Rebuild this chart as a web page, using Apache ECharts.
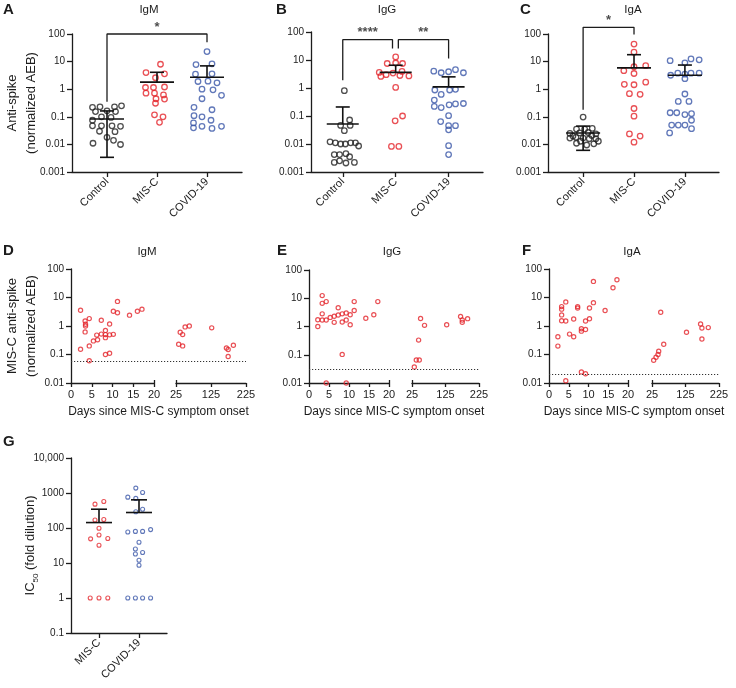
<!DOCTYPE html>
<html><head><meta charset="utf-8">
<script src="https://cdn.jsdelivr.net/npm/echarts@6/dist/echarts.min.js"></script>
<style>html,body{margin:0;padding:0;background:#fff}#c{width:736px;height:688px}</style>
</head><body><div id="c"></div>
<script>
// ================= DATA =================
const groups3 = ['Control', 'MIS-C', 'COVID-19'];
const groups2 = ['MIS-C', 'COVID-19'];
const ticksABC = ['0.001', '0.01', '0.1', '1', '10', '100'];
const ticksDEF = ['0.01', '0.1', '1', '10', '100'];
const ticksG = ['0.1', '1', '10', '100', '1000', '10,000'];
const dayTicks1 = [0, 5, 10, 15, 20];
const dayTicks2 = [25, 125, 225];

// Panel A – IgM (values; horizontal jitter in category units)
const aCtrlVal = [0.22,0.23,0.23,0.25,0.155,0.165,0.155,0.075,0.10,0.095,0.047,0.047,0.047,0.045,0.03,0.029,0.018,0.011,0.0099,0.014];
const aCtrlJit = [-0.29,-0.14,0.15,0.29,-0.23,0,0.17,-0.29,-0.11,0.08,-0.29,-0.11,0.1,0.27,-0.15,0.16,0,-0.28,0.27,0.13];
const aMiscVal = [8.0,4.0,3.6,2.6,1.15,1.15,1.2,0.72,0.72,0.62,0.45,0.44,0.31,0.118,0.10,0.063];
const aMiscJit = [0.07,-0.22,0.15,-0.03,-0.23,-0.07,0.15,-0.22,-0.05,0.13,-0.02,0.15,-0.03,-0.05,0.12,0.05];
const aCovVal = [23,7.8,8.3,3.5,3.6,1.9,1.95,1.7,1.0,0.95,0.6,0.45,0.22,0.18,0.11,0.10,0.075,0.06,0.04,0.045,0.038,0.045];
const aCovJit = [0,-0.22,0.1,-0.23,0.1,-0.18,0.02,0.2,-0.1,0.12,0.29,-0.1,-0.26,0.1,-0.26,-0.1,0.08,-0.27,-0.27,-0.1,0.1,0.29];
const aMean = [0.083, 1.8, 2.7];
const aSdLow = [0.0034, null, null];
const aSdHigh = [0.163, 4.1, 7.0];
const aBracket = [[0, 0.35], [0, 100], [2, 100], [2, 50]];
const aStars = [[1, 100, '*']];

// Panel B – IgG
const bCtrlVal = [0.8,0.072,0.046,0.046,0.03,0.012,0.011,0.01,0.01,0.011,0.011,0.0085,0.0042,0.0042,0.0045,0.0035,0.0022,0.0025,0.0021,0.0022];
const bCtrlJit = [0.03,0.13,-0.04,0.14,0.03,-0.24,-0.14,-0.04,0.05,0.15,0.24,0.3,-0.16,-0.06,0.06,0.13,-0.16,-0.06,0.06,0.22];
const bMiscVal = [12.9,7.5,7.8,7.5,3.6,3.0,3.4,2.8,2.7,2.6,3.9,1.05,0.10,0.067,0.0082,0.0082];
const bMiscJit = [0,-0.16,0,0.13,-0.31,-0.18,-0.05,0.08,0.25,-0.28,0.12,0,0.13,-0.01,-0.08,0.06];
const bCovVal = [4.0,3.5,3.8,4.5,3.5,0.85,0.85,0.9,0.59,0.37,0.22,0.2,0.25,0.27,0.28,0.103,0.063,0.045,0.045,0.032,0.0087,0.0042];
const bCovJit = [-0.28,-0.14,0,0.13,0.28,-0.26,0.02,0.13,-0.14,-0.27,-0.27,-0.14,0.01,0.13,0.28,0,-0.15,0,0.13,0,0,0];
const bMean = [0.052, 3.6, 1.1];
const bSdLow = [null, null, null];
const bSdHigh = [0.21, 6.5, 2.5];
const bBracket1 = [[0, 1.9], [0, 53], [0.94, 53], [0.94, 25.6]];
const bBracket2 = [[1.05, 25.6], [1.05, 53], [2, 53], [2, 11.3]];
const bStars = [[0.47, 53, '****'], [1.52, 53, '**']];

// Panel C – IgA
const cCtrlVal = [0.098,0.036,0.036,0.038,0.025,0.026,0.027,0.024,0.017,0.018,0.017,0.016,0.016,0.011,0.0095,0.0105,0.02,0.021,0.013,0.013];
const cCtrlJit = [0,-0.13,0.03,0.18,-0.26,-0.07,0.1,0.25,-0.26,-0.14,0,0.12,0.25,-0.13,0.07,0.21,-0.2,0.17,-0.05,0.3];
const cMiscVal = [43,22,6.5,7.1,4.7,3.7,1.5,1.45,1.8,0.69,0.65,0.2,0.105,0.024,0.02,0.012];
const cMiscJit = [0,0,0,0.23,-0.2,0,-0.19,0,0.23,-0.09,0.12,0,0,-0.09,0.12,0];
const cCovVal = [10.8,12.5,11.6,9,3.2,3.8,3.5,3.8,3.8,2.4,0.67,0.36,0.36,0.14,0.14,0.12,0.13,0.075,0.05,0.05,0.05,0.037,0.026];
const cCovJit = [-0.29,0.12,0.28,0,-0.28,-0.14,0,0.12,0.28,0,0,-0.13,0.08,-0.29,-0.16,0,0.13,0.13,-0.26,-0.13,0,0.13,-0.3];
const cMean = [0.026, 5.9, 3.2];
const cSdLow = [0.0061, null, null];
const cSdHigh = [0.046, 17.8, 7.5];
const cBracket = [[0, 0.18], [0, 175], [1, 175], [1, 95]];
const cStars = [[0.5, 175, '*']];

// Panel D – MIS-C IgM over time
const dDays = [2.3,2.3,3.4,3.5,3.5,3.4,4.4,4.4,4.4,5.4,6.2,6.4,7.3,7.3,8.3,8.3,8.3,8.3,9.3,9.3,9.3,10.2,10.2,11.2,11.2,14.1,16,17.1,
  32.6,37,44,44,51,63,127,169,174,174,189];
const dVals = [3.56,0.152,1.5,1.0,1.15,0.62,1.82,0.2,0.06,0.30,0.48,0.33,1.6,0.52,0.7,0.5,0.39,0.10,1.17,0.49,0.11,0.51,3.3,7.3,2.9,2.4,3.3,3.9,
  0.23,0.6,0.5,0.2,0.93,1.0,0.86,0.17,0.15,0.085,0.21];
const dLimit = 0.06;

// Panel E – MIS-C IgG over time
const eDays = [2.2,2.2,3.3,3.3,3.3,3.3,4.3,4.3,4.3,5.3,6.3,6.3,7.3,7.3,8.3,8.3,8.3,9.3,9.3,9.3,10.3,10.3,11.3,11.3,14.2,16.2,17.2,
  31.9,37.8,46.7,44.7,50.6,62.4,128.5,170,175,175,191];
const eVals = [1.73,1.0,12.4,6.6,2.8,1.7,7.6,1.7,0.01,2.1,2.3,1.4,4.6,2.55,2.8,1.45,0.103,3.0,1.7,0.01,2.6,1.15,7.6,3.7,1.95,2.6,7.6,
  0.037,0.065,0.065,0.33,1.93,1.1,1.15,2.27,1.7,1.4,1.9];
const eLimit = 0.0325;

// Panel F – MIS-C IgA over time
const fDays = [2.25,2.25,3.2,3.2,3.2,3.2,4.25,4.25,4.25,5.2,6.25,6.25,7.25,7.25,8.2,8.2,8.2,9.25,9.25,9.25,10.25,10.25,11.25,11.25,14.2,16.2,17.2,
  30,37,43,45,51,60,128,170,174,174,193];
const fVals = [0.42,0.197,4.8,3.9,2.45,1.53,7.0,1.5,0.012,0.52,1.77,0.42,4.8,4.3,0.8,0.66,0.0245,1.5,0.75,0.021,4.3,1.8,6.6,36.7,3.5,22,42,
  0.063,0.08,0.1,0.13,3.03,0.23,0.6,1.17,0.85,0.35,0.88];
const fLimit = 0.0163;

// Panel G – IC50
const gMiscVal = [480,570,170,175,98,63,49,50,32,1,1,1];
const gMiscJit = [-0.1,0.12,-0.1,0.12,0,0,-0.21,0.22,0,-0.22,0,0.22];
const gCovVal = [1380,1035,760,700,345,290,77,80,80,90,39,25,18,20,12,8.6,1,1,1,1];
const gCovJit = [-0.08,0.09,-0.28,-0.08,0.09,-0.08,-0.28,-0.09,0.09,0.29,0,-0.09,-0.09,0.09,0,0,-0.28,-0.09,0.09,0.29];
const gMean = [143, 277];
const gSdLow = [null, null];
const gSdHigh = [344, 638];

// ================= STYLE / LAYOUT =================
const FONT = '"Liberation Sans", Arial, Helvetica, sans-serif';
const INK = '#1c1c1c';
const RED = '#e3242b', BLUE = '#3a56a8', BLACK = '#222222';
const AX = { color: INK, width: 1.3 };

const grids = [], xAxes = [], yAxes = [], series = [];
function addGrid(g) { grids.push(Object.assign({ containLabel: false, outerBoundsMode: 'none' }, g)); return grids.length - 1; }
function num(s) { return parseFloat(s.replace(/,/g, '')); }
function logFormatter(labels) {
  const nums = labels.map(num);
  return v => { for (let i = 0; i < nums.length; i++) if (Math.abs(Math.log10(v) - Math.log10(nums[i])) < 1e-6) return labels[i]; return ''; };
}
function logY(gi, labels, opt) {
  opt = opt || {};
  const nums = labels.map(num);
  const ax = {
    type: 'log', logBase: 10, gridIndex: gi, min: nums[0], max: nums[nums.length - 1], splitNumber: labels.length - 1,
    show: opt.show !== false,
    axisLine: { show: true, onZero: false, lineStyle: AX },
    axisTick: { show: true, length: 5, lineStyle: AX },
    axisLabel: { formatter: logFormatter(labels), color: INK, fontSize: 10, fontFamily: FONT, margin: 7 },
    splitLine: { show: false }, minorTick: { show: false }, minorSplitLine: { show: false }
  };
  if (opt.name) {
    ax.name = opt.name; ax.nameLocation = 'middle'; ax.nameGap = opt.nameGap; ax.nameMoveOverlap = false;
    ax.nameTextStyle = Object.assign({ fontSize: 13, color: INK, fontFamily: FONT, lineHeight: 19 }, opt.nameStyle || {});
  }
  yAxes.push(ax); return yAxes.length - 1;
}
function catX(gi, cats, min, max) {
  const idx = cats.map((_, i) => i);
  xAxes.push({
    type: 'value', gridIndex: gi, min, max, position: 'bottom',
    axisLine: { show: true, onZero: false, lineStyle: AX },
    axisTick: { show: true, length: 5, customValues: idx, lineStyle: AX },
    axisLabel: { customValues: idx, formatter: v => cats[Math.round(v)] || '', rotate: 45, color: INK, fontSize: 11, fontFamily: FONT, margin: 8 },
    splitLine: { show: false }
  });
  return xAxes.length - 1;
}
function dots(xi, yi, xs, ys, color, size, bw) {
  series.push({
    type: 'scatter', xAxisIndex: xi, yAxisIndex: yi, data: xs.map((x, i) => [x, ys[i]]),
    symbol: 'circle', symbolSize: size, silent: true, clip: false, z: 2,
    itemStyle: { color: 'rgba(255,255,255,0)', borderColor: color, borderWidth: bw }
  });
}
function meanSD(xi, yi, means, lows, highs, halfW, halfCap) {
  series.push({
    type: 'custom', xAxisIndex: xi, yAxisIndex: yi, clip: false, silent: true, z: 5,
    data: means.map((m, i) => [i, m, lows[i] == null ? m : lows[i], highs[i] == null ? m : highs[i]]),
    encode: { x: 0, y: [1, 2, 3] },
    renderItem: (params, api) => {
      const x = api.value(0);
      const m = api.coord([x, api.value(1)]), lo = api.coord([x, api.value(2)]), hi = api.coord([x, api.value(3)]);
      const st = { stroke: '#111', lineWidth: 1.6 };
      const ch = [{ type: 'line', shape: { x1: m[0] - halfW, y1: m[1], x2: m[0] + halfW, y2: m[1] }, style: st }];
      [hi, lo].forEach(p => {
        if (Math.abs(p[1] - m[1]) > 0.5) {
          ch.push({ type: 'line', shape: { x1: m[0], y1: m[1], x2: m[0], y2: p[1] }, style: st });
          ch.push({ type: 'line', shape: { x1: m[0] - halfCap, y1: p[1], x2: m[0] + halfCap, y2: p[1] }, style: st });
        }
      });
      return { type: 'group', children: ch };
    }
  });
}
function bracket(xi, yi, pts) {
  series.push({ type: 'line', xAxisIndex: xi, yAxisIndex: yi, data: pts, symbol: 'none', clip: false, silent: true, z: 3,
    lineStyle: { color: INK, width: 1.3 } });
}
function stars(xi, yi, list) {
  list.forEach(s => series.push({
    type: 'scatter', xAxisIndex: xi, yAxisIndex: yi, data: [[s[0], s[1]]], symbolSize: 1, clip: false, silent: true,
    itemStyle: { color: 'rgba(0,0,0,0)' },
    label: { show: true, position: 'top', distance: 0, formatter: s[2], fontSize: 13, fontWeight: 'bold', color: INK, fontFamily: FONT }
  }));
}

function catPanel(L, cats, ticks, groups, mean, low, high, yOpt) {
  const gi = addGrid({ left: L.left, top: L.top, width: L.width, height: L.height });
  const xi = catX(gi, cats, L.xmin, L.xmax);
  const yi = logY(gi, ticks, yOpt);
  groups.forEach((g, k) => dots(xi, yi, g.jit.map(j => k + j), g.val, g.color, L.sym, L.bw));
  meanSD(xi, yi, mean, low, high, L.halfW, L.halfCap);
  return { xi, yi };
}

function timePanel(L, days, vals, limit, yOpt) {
  const g1 = addGrid({ left: L.left1, top: L.top, width: L.w1, height: L.h });
  const g2 = addGrid({ left: L.left2, top: L.top, width: L.w2, height: L.h });
  const g3 = addGrid({ left: L.left1, top: L.top, width: L.left2 + L.w2 - L.left1, height: L.h });
  const lab = { color: INK, fontSize: 11, fontFamily: FONT, margin: 6 };
  const end1 = dayTicks1[dayTicks1.length - 1], start2 = dayTicks2[0];
  // segment 1
  xAxes.push({ type: 'value', gridIndex: g1, position: 'bottom', min: dayTicks1[0], max: end1, interval: 5,
    axisLine: { show: true, onZero: false, lineStyle: AX }, axisTick: { show: true, length: 4, lineStyle: AX },
    axisLabel: lab, splitLine: { show: false } });
  const x1 = xAxes.length - 1;
  xAxes.push({ type: 'value', gridIndex: g1, position: 'bottom', min: dayTicks1[0], max: end1,
    axisLine: { show: false, onZero: false }, axisTick: { show: true, inside: true, length: 3, customValues: [end1], lineStyle: AX },
    axisLabel: { show: false }, splitLine: { show: false } });
  // segment 2
  xAxes.push({ type: 'value', gridIndex: g2, position: 'bottom', min: start2, max: dayTicks2[dayTicks2.length - 1],
    axisLine: { show: true, onZero: false, lineStyle: AX }, axisTick: { show: true, length: 4, customValues: dayTicks2, lineStyle: AX },
    axisLabel: Object.assign({ customValues: dayTicks2 }, lab), splitLine: { show: false } });
  const x2 = xAxes.length - 1;
  xAxes.push({ type: 'value', gridIndex: g2, position: 'bottom', min: start2, max: dayTicks2[dayTicks2.length - 1],
    axisLine: { show: false, onZero: false }, axisTick: { show: true, inside: true, length: 3, customValues: [start2], lineStyle: AX },
    axisLabel: { show: false }, splitLine: { show: false } });
  // full width (threshold + axis title)
  xAxes.push({ type: 'value', gridIndex: g3, position: 'bottom', min: 0, max: 1, show: true,
    axisLine: { show: false, onZero: false }, axisTick: { show: false }, axisLabel: { show: false }, splitLine: { show: false },
    name: 'Days since MIS-C symptom onset', nameLocation: 'middle', nameGap: L.xNameGap, nameMoveOverlap: false,
    nameTextStyle: { fontSize: 12, color: INK, fontFamily: FONT } });
  const x3 = xAxes.length - 1;
  const y1 = logY(g1, ticksDEF, yOpt);
  const y2 = logY(g2, ticksDEF, { show: false });
  const y3 = logY(g3, ticksDEF, { show: false });
  const s1 = days.map((d, i) => d <= end1 ? i : -1).filter(i => i >= 0);
  const s2 = days.map((d, i) => d >= start2 ? i : -1).filter(i => i >= 0);
  dots(x1, y1, s1.map(i => days[i]), s1.map(i => vals[i]), RED, L.sym, L.bw);
  dots(x2, y2, s2.map(i => days[i]), s2.map(i => vals[i]), RED, L.sym, L.bw);
  series.push({ type: 'line', xAxisIndex: x3, yAxisIndex: y3, data: [], silent: true,
    markLine: { silent: true, symbol: 'none', label: { show: false }, animation: false,
      lineStyle: { color: '#333', width: 1, type: [1.2, 1.8] }, data: [{ yAxis: limit }] } });
}

// ----- layouts -----
const LA = { left: 72, top: 34, width: 170, height: 138, xmin: -0.7, xmax: 2.7, sym: 5.5, bw: 1.3, halfW: 17, halfCap: 7 };
const LB = { left: 311, top: 32, width: 172, height: 140, xmin: -0.6, xmax: 2.65, sym: 5.5, bw: 1.3, halfW: 16, halfCap: 7 };
const LC = { left: 548, top: 34, width: 171, height: 138, xmin: -0.69, xmax: 2.67, sym: 5.5, bw: 1.3, halfW: 17, halfCap: 7 };
const LD = { left1: 71, w1: 83, left2: 176, w2: 70, top: 269, h: 114, sym: 4.2, bw: 1.2, xNameGap: 23 };
const LE = { left1: 309, w1: 80, left2: 412, w2: 67, top: 270, h: 113, sym: 4.2, bw: 1.2, xNameGap: 23 };
const LF = { left1: 549, w1: 79, left2: 652, w2: 67, top: 269, h: 114, sym: 4.2, bw: 1.2, xNameGap: 23 };
const LG = { left: 71, top: 458, width: 96, height: 175, xmin: -0.7, xmax: 1.7, sym: 4, bw: 1.1, halfW: 13, halfCap: 8 };

const pA = catPanel(LA, groups3, ticksABC,
  [{ val: aCtrlVal, jit: aCtrlJit, color: BLACK }, { val: aMiscVal, jit: aMiscJit, color: RED }, { val: aCovVal, jit: aCovJit, color: BLUE }],
  aMean, aSdLow, aSdHigh, { name: 'Anti-spike\n(normalized AEB)', nameGap: 31 });
bracket(pA.xi, pA.yi, aBracket); stars(pA.xi, pA.yi, aStars);

const pB = catPanel(LB, groups3, ticksABC,
  [{ val: bCtrlVal, jit: bCtrlJit, color: BLACK }, { val: bMiscVal, jit: bMiscJit, color: RED }, { val: bCovVal, jit: bCovJit, color: BLUE }],
  bMean, bSdLow, bSdHigh);
bracket(pB.xi, pB.yi, bBracket1); bracket(pB.xi, pB.yi, bBracket2); stars(pB.xi, pB.yi, bStars);

const pC = catPanel(LC, groups3, ticksABC,
  [{ val: cCtrlVal, jit: cCtrlJit, color: BLACK }, { val: cMiscVal, jit: cMiscJit, color: RED }, { val: cCovVal, jit: cCovJit, color: BLUE }],
  cMean, cSdLow, cSdHigh);
bracket(pC.xi, pC.yi, cBracket); stars(pC.xi, pC.yi, cStars);

timePanel(LD, dDays, dVals, dLimit, { name: 'MIS-C anti-spike\n(normalized AEB)', nameGap: 30 });
timePanel(LE, eDays, eVals, eLimit);
timePanel(LF, fDays, fVals, fLimit);

catPanel(LG, groups2, ticksG,
  [{ val: gMiscVal, jit: gMiscJit, color: RED }, { val: gCovVal, jit: gCovJit, color: BLUE }],
  gMean, gSdLow, gSdHigh,
  { name: 'IC{sub|50} (fold dilution)', nameGap: 31, nameStyle: { rich: { sub: { fontSize: 8, fontFamily: FONT, color: INK, verticalAlign: 'bottom', padding: [7, 0, 0, 0] } } } });

// ----- texts -----
function txt(text, x, y, size, bold) {
  return { type: 'text', x, y, silent: true,
    style: { text, fontSize: size, fontWeight: bold ? 'bold' : 'normal', fontFamily: FONT, fill: INK,
      align: bold ? 'left' : 'center', verticalAlign: 'middle' } };
}
const graphics = [
  txt('A', 3, 10, 15, true), txt('B', 276, 10, 15, true), txt('C', 520, 10, 15, true),
  txt('D', 3, 251, 15, true), txt('E', 277, 251, 15, true), txt('F', 522, 251, 15, true), txt('G', 3, 442, 15, true),
  txt('IgM', 149, 10, 11.5), txt('IgG', 387, 10, 11.5), txt('IgA', 633, 10, 11.5),
  txt('IgM', 147, 252, 11.5), txt('IgG', 392, 252, 11.5), txt('IgA', 632, 252, 11.5)
];

const chart = echarts.init(document.getElementById('c'), null, { renderer: 'canvas', width: 736, height: 688 });
chart.setOption({
  animation: false, backgroundColor: '#ffffff',
  textStyle: { fontFamily: FONT },
  grid: grids, xAxis: xAxes, yAxis: yAxes, series, graphic: graphics
});
</script></body></html>
